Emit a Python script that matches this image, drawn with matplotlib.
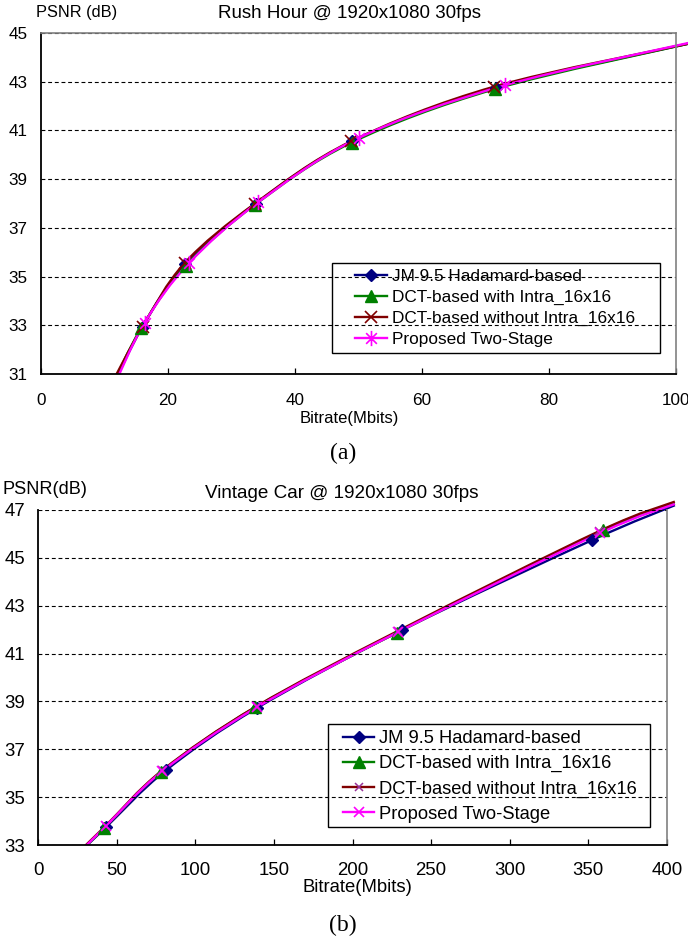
import matplotlib
matplotlib.use("Agg")
import matplotlib.pyplot as plt
from matplotlib.path import Path
from matplotlib.patches import PathPatch, Rectangle
from matplotlib.lines import Line2D

plt.rcParams['font.family'] = ['Liberation Sans', 'DejaVu Sans']

labels = ["JM 9.5 Hadamard-based", "DCT-based with Intra_16x16",
          "DCT-based without Intra_16x16", "Proposed Two-Stage"]
line_colors = ["#000080", "#008000", "#800000", "#FF00FF"]

# Rush Hour (a): first and last points lie outside the plotted range
rush_jm_x = [11.0, 16.0, 22.7, 33.8, 49.0, 71.6, 103.0]
rush_jm_y = [30.35, 32.95, 35.5, 38.0, 40.55, 42.75, 44.62]
rush_dct_x = [10.9, 15.8, 22.8, 33.7, 48.9, 71.5, 103.0]
rush_dct_y = [30.35, 32.9, 35.45, 37.95, 40.5, 42.7, 44.62]
rush_noi_x = [10.7, 16.0, 22.6, 33.7, 48.8, 71.4, 103.0]
rush_noi_y = [30.4, 32.95, 35.55, 38.0, 40.55, 42.8, 44.62]
rush_prop_x = [11.3, 16.3, 23.3, 34.2, 50.1, 73.0, 103.0]
rush_prop_y = [30.4, 33.1, 35.55, 38.05, 40.7, 42.85, 44.65]

# Vintage Car (b)
car_jm_x = [25.0, 43.3, 81.5, 139.4, 231.7, 352.6, 405.0]
car_jm_y = [32.6, 33.75, 36.13, 38.73, 41.99, 45.75, 47.2]
car_dct_x = [25.0, 42.0, 78.3, 138.0, 228.0, 359.0, 405.0]
car_dct_y = [32.6, 33.7, 36.05, 38.75, 41.86, 46.15, 47.27]
car_noi_x = [25.0, 43.0, 79.0, 139.0, 229.0, 357.0, 405.0]
car_noi_y = [32.65, 33.8, 36.12, 38.8, 41.95, 46.12, 47.35]
car_prop_x = [25.0, 43.0, 79.0, 139.0, 229.0, 357.7, 405.0]
car_prop_y = [32.6, 33.78, 36.08, 38.75, 41.9, 46.04, 47.25]

W, H = 688, 942


def px(x, y):
    return x / W, 1 - y / H


def smooth_path(xs, ys):
    # smoothed line through the points (cubic Bezier, Catmull-Rom tangents)
    pts = list(zip(xs, ys))
    n = len(pts)
    verts = [pts[0]]
    codes = [Path.MOVETO]
    for i in range(n - 1):
        p0 = pts[max(i - 1, 0)]
        p1 = pts[i]
        p2 = pts[i + 1]
        p3 = pts[min(i + 2, n - 1)]
        c1 = (p1[0] + (p2[0] - p0[0]) / 6, p1[1] + (p2[1] - p0[1]) / 6)
        c2 = (p2[0] - (p3[0] - p1[0]) / 6, p2[1] - (p3[1] - p1[1]) / 6)
        verts += [c1, c2, p2]
        codes += [Path.CURVE4] * 3
    return Path(verts, codes)


asterisk = Path([(0, -1), (0, 1), (-0.7, -0.7), (0.7, 0.7), (-0.7, 0.7), (0.7, -0.7)],
                [Path.MOVETO, Path.LINETO] * 3)


def draw_panel(ax, series, markers, clip_w, clip_h, xlim, xstep, ylim, fs, xpad):
    clip = Rectangle((0, 0), clip_w, clip_h, transform=ax.transAxes)
    for (xs, ys), color, mk in zip(series, line_colors, markers):
        patch = PathPatch(smooth_path(xs, ys), facecolor="none", edgecolor=color,
                          lw=1.7, transform=ax.transData)
        ax.add_patch(patch)
        patch.set_clip_path(clip)
        ax.plot(xs[1:-1], ys[1:-1], linestyle="none", **mk)
    ax.set_xlim(*xlim)
    ax.set_ylim(*ylim)
    ax.set_xticks(range(xlim[0], xlim[1] + 1, xstep))
    ax.set_yticks(range(ylim[0], ylim[1] + 1, 2))
    ax.yaxis.grid(True, color="black", linestyle=(0, (3.5, 2.5)), lw=0.8)
    ax.tick_params(axis="x", direction="in", length=4, width=0.9, labelsize=fs, pad=xpad)
    ax.tick_params(axis="y", length=0, labelsize=fs, pad=9.5)
    for s in ["left", "bottom"]:
        ax.spines[s].set_linewidth(1.3)
        ax.spines[s].set_color("black")
    ax.spines["right"].set_color("#808080")
    ax.spines["right"].set_linewidth(1.2)
    ax.spines["top"].set_color("#808080")
    ax.spines["top"].set_linewidth(1.2)


fig = plt.figure(figsize=(W / 100, H / 100), dpi=100)

# ---- (a) Rush Hour
ax1 = fig.add_axes([41 / W, 1 - 374 / H, (676 - 41) / W, (374 - 33) / H])
mk_a = [dict(marker="D", ms=6.5, color="#000080"),
        dict(marker="^", ms=8, color="#008000"),
        dict(marker="x", ms=8, mew=1.2, color="#800000"),
        dict(marker=asterisk, ms=11, mew=1.2, mfc="none", color="#FF00FF")]
draw_panel(ax1, [(rush_jm_x, rush_jm_y), (rush_dct_x, rush_dct_y),
                 (rush_noi_x, rush_noi_y), (rush_prop_x, rush_prop_y)],
           mk_a, 1.03, 1.0, (0, 100), 20, (31, 45), 12.3, 13.5)

fig.text(*px(77, 13), "PSNR (dB)", fontsize=11.8, ha="center", va="center")
fig.text(*px(350, 13), "Rush Hour @ 1920x1080 30fps", fontsize=13.5, ha="center", va="center")
fig.text(*px(349, 418), "Bitrate(Mbits)", fontsize=12, ha="center", va="center")
fig.text(*px(343, 453), "(a)", fontsize=17, ha="center", va="center", family="Liberation Serif")

h_a = [Line2D([], [], color=c, lw=1.7, **{k: v for k, v in m.items() if k != "color"},
              mec=m["color"]) for c, m in zip(line_colors, mk_a)]
for h, m in zip(h_a, mk_a):
    if m["marker"] != "x" and m["marker"] is not asterisk:
        h.set_markerfacecolor(m["color"])
fig.legend(h_a, labels, loc="upper left", bbox_to_anchor=px(355, 269),
           bbox_transform=fig.transFigure, frameon=False, borderpad=0, borderaxespad=0,
           fontsize=12.4, handlelength=1.85, handletextpad=0.3, labelspacing=0.33)
fig.add_artist(Rectangle(px(332, 353), (660 - 332) / W, (353 - 263) / H,
                         transform=fig.transFigure, fill=False, ec="black", lw=1.0))

# ---- (b) Vintage Car
ax2 = fig.add_axes([38 / W, 1 - 845 / H, (667 - 38) / W, (845 - 510) / H])
mk_b = [dict(marker="D", ms=6.5, color="#000080"),
        dict(marker="^", ms=8, color="#008000"),
        dict(marker="x", ms=5.5, mew=1.1, color="#993399"),
        dict(marker="x", ms=7, mew=1.2, color="#FF00FF")]
draw_panel(ax2, [(car_jm_x, car_jm_y), (car_dct_x, car_dct_y),
                 (car_noi_x, car_noi_y), (car_prop_x, car_prop_y)],
           mk_b, 1.015, 1.03, (0, 400), 50, (33, 47), 13.4, 12.5)
ax2.spines["top"].set_visible(False)

fig.text(*px(45, 490), "PSNR(dB)", fontsize=13.1, ha="center", va="center")
fig.text(*px(342, 493), "Vintage Car @ 1920x1080 30fps", fontsize=13.6, ha="center", va="center")
fig.text(*px(357, 888), "Bitrate(Mbits)", fontsize=13.3, ha="center", va="center")
fig.text(*px(343, 925), "(b)", fontsize=17, ha="center", va="center", family="Liberation Serif")

h_b = [Line2D([], [], color=c, lw=1.7, marker=m["marker"], ms=m["ms"],
              mew=m.get("mew", 1.0), mec=m["color"], mfc=m["color"])
       for c, m in zip(line_colors, mk_b)]
fig.legend(h_b, labels, loc="upper left", bbox_to_anchor=px(343, 730),
           bbox_transform=fig.transFigure, frameon=False, borderpad=0, borderaxespad=0,
           fontsize=13.2, handlelength=1.7, handletextpad=0.28, labelspacing=0.44)
fig.add_artist(Rectangle(px(328, 827), (650 - 328) / W, (827 - 724) / H,
                         transform=fig.transFigure, fill=False, ec="black", lw=1.0))

fig.savefig("out.png", dpi=100)
